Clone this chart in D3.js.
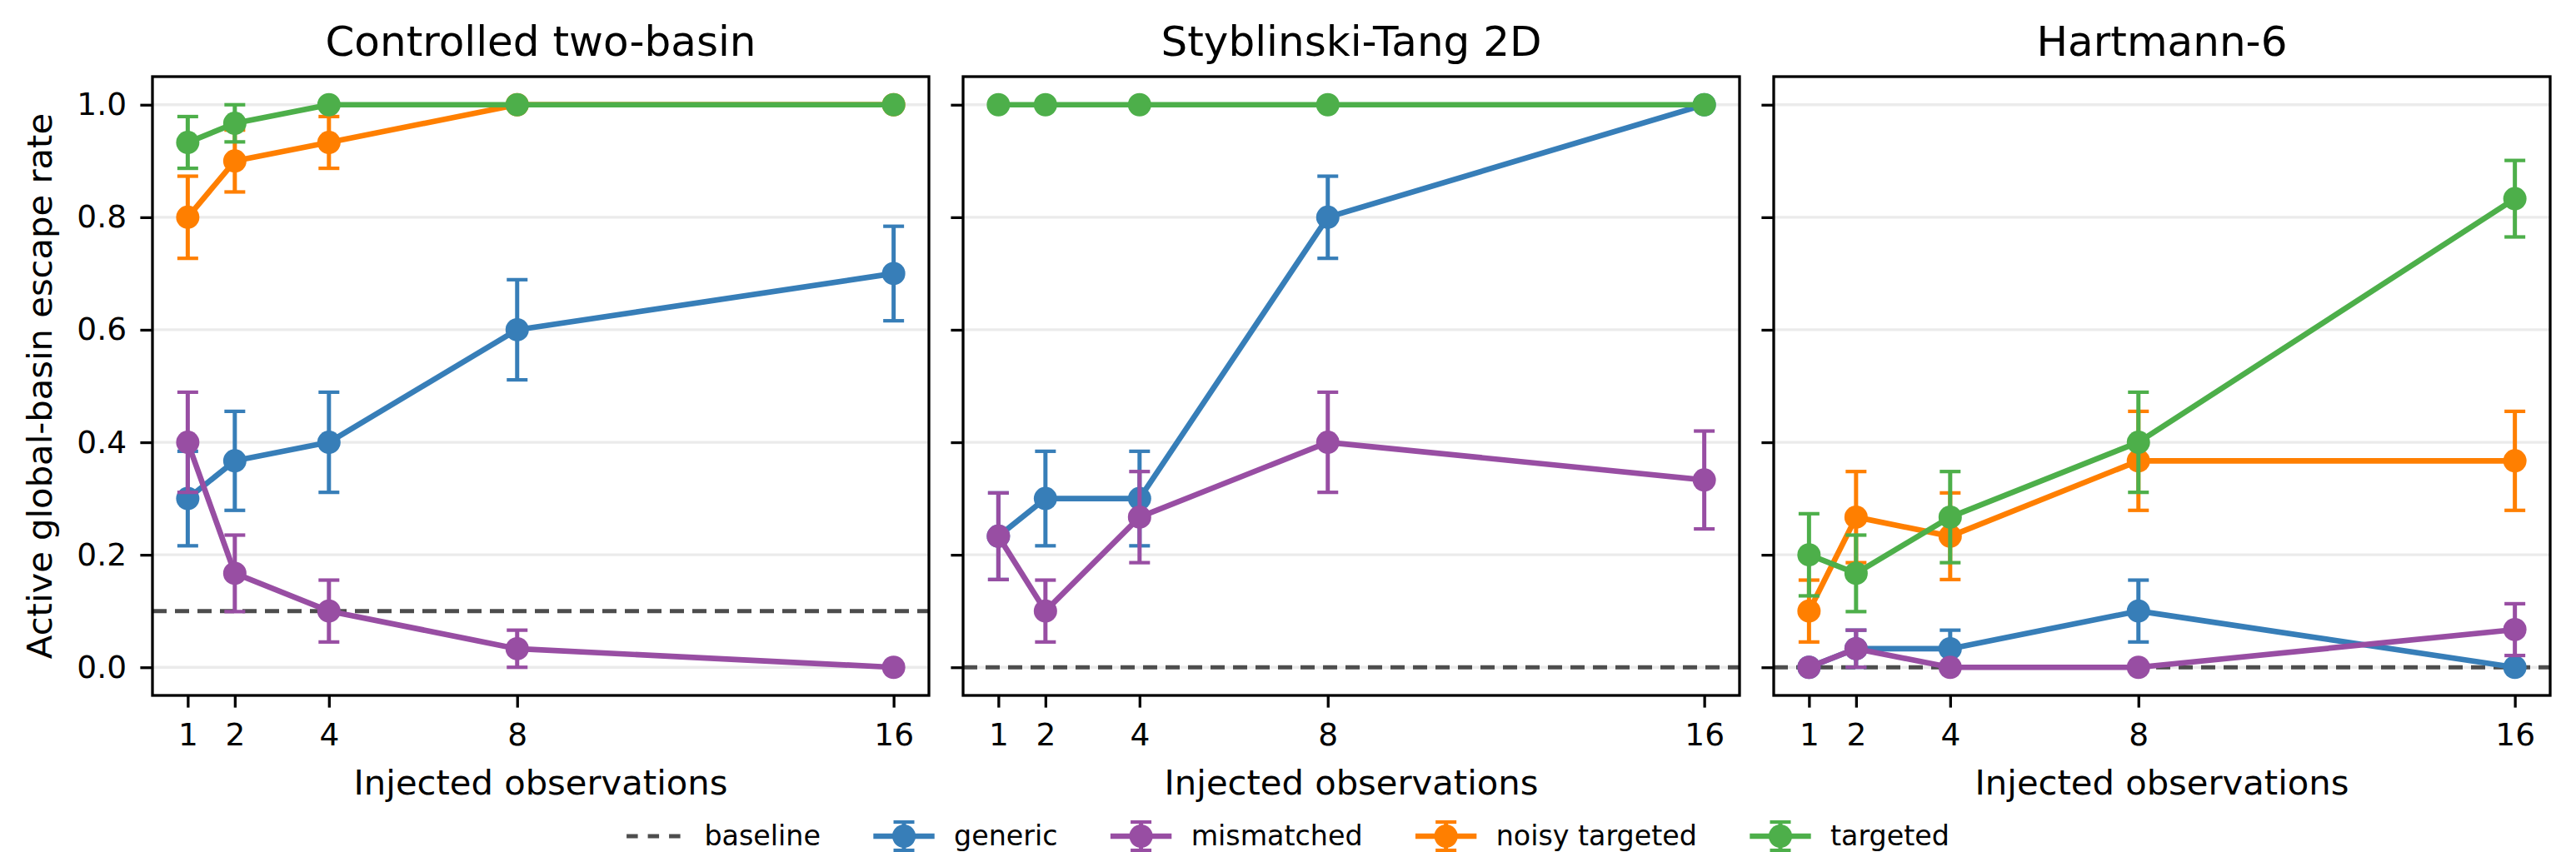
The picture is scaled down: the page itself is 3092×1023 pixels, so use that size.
<!DOCTYPE html>
<html>
<head>
<meta charset="utf-8">
<script src="https://cdn.jsdelivr.net/npm/d3@7"></script>
<style>
body { margin: 0; background: #fff; }
text { font-family: "DejaVu Sans", sans-serif; fill: #000; }
</style>
</head>
<body>
<script>

// ---- data ----
var injected = [1, 2, 4, 8, 16];
var panelTitles = ["Controlled two-basin", "Styblinski-Tang 2D", "Hartmann-6"];
var seriesNames = ["generic", "mismatched", "noisy targeted", "targeted"];
var seriesColors = ["#377eb8", "#984ea3", "#ff7f00", "#4daf4a"];
var baselineValues = [0.1, 0.0, 0.0];
var yTicks = [0.0, 0.2, 0.4, 0.6, 0.8, 1.0];

// Controlled two-basin
var twoBasinGeneric       = [0.300, 0.367, 0.400, 0.600, 0.700];
var twoBasinGenericErr    = [0.084, 0.088, 0.089, 0.089, 0.084];
var twoBasinMismatched    = [0.400, 0.167, 0.100, 0.033, 0.000];
var twoBasinMismatchedErr = [0.089, 0.068, 0.055, 0.033, 0.000];
var twoBasinNoisy         = [0.800, 0.900, 0.933, 1.000, 1.000];
var twoBasinNoisyErr      = [0.073, 0.055, 0.046, 0.000, 0.000];
var twoBasinTargeted      = [0.933, 0.967, 1.000, 1.000, 1.000];
var twoBasinTargetedErr   = [0.046, 0.033, 0.000, 0.000, 0.000];

// Styblinski-Tang 2D (no noisy targeted run)
var stGeneric       = [0.233, 0.300, 0.300, 0.800, 1.000];
var stGenericErr    = [0.077, 0.084, 0.084, 0.073, 0.000];
var stMismatched    = [0.233, 0.100, 0.267, 0.400, 0.333];
var stMismatchedErr = [0.077, 0.055, 0.081, 0.089, 0.087];
var stTargeted      = [1.000, 1.000, 1.000, 1.000, 1.000];
var stTargetedErr   = [0.000, 0.000, 0.000, 0.000, 0.000];

// Hartmann-6
var h6Generic       = [0.000, 0.033, 0.033, 0.100, 0.000];
var h6GenericErr    = [0.000, 0.033, 0.033, 0.055, 0.000];
var h6Mismatched    = [0.000, 0.033, 0.000, 0.000, 0.067];
var h6MismatchedErr = [0.000, 0.033, 0.000, 0.000, 0.046];
var h6Noisy         = [0.100, 0.267, 0.233, 0.367, 0.367];
var h6NoisyErr      = [0.055, 0.081, 0.077, 0.088, 0.088];
var h6Targeted      = [0.200, 0.167, 0.267, 0.400, 0.833];
var h6TargetedErr   = [0.073, 0.068, 0.081, 0.089, 0.068];

var panelValues = [
    [twoBasinGeneric, twoBasinMismatched, twoBasinNoisy, twoBasinTargeted],
    [stGeneric, stMismatched, null, stTargeted],
    [h6Generic, h6Mismatched, h6Noisy, h6Targeted]
];
var panelErrors = [
    [twoBasinGenericErr, twoBasinMismatchedErr, twoBasinNoisyErr, twoBasinTargetedErr],
    [stGenericErr, stMismatchedErr, null, stTargetedErr],
    [h6GenericErr, h6MismatchedErr, h6NoisyErr, h6TargetedErr]
];

// ---- layout (px, figure at 300 dpi) ----
var W = 3092, H = 1023;
var axTop = 92, axBottom = 835, axW = 932;
var axLefts = [183, 1156, 2129];
var lineW = 6.7, errW = 5, capHalf = 12.5, markR = 14;
var tickLen = 14.6, tickW = 3.3;
var baseColor = "#4d4d4d", baseDash = "17,10";

var svg = d3.select("body").append("svg")
    .attr("width", W)
    .attr("height", H);

var y = d3.scaleLinear().domain([-0.05, 1.05]).range([axBottom, axTop]);

panelTitles.forEach(function(title, p) {
    var left = axLefts[p];
    var x = d3.scaleLinear().domain([0.25, 16.75]).range([left, left + axW]);
    var g = svg.append("g");

    // grid
    g.selectAll("line.grid").data(yTicks).enter().append("line")
        .attr("x1", left).attr("x2", left + axW)
        .attr("y1", function(d){ return y(d); })
        .attr("y2", function(d){ return y(d); })
        .attr("stroke", "#ebebeb")
        .attr("stroke-width", 3.3);

    // baseline
    g.append("line")
        .attr("x1", left).attr("x2", left + axW)
        .attr("y1", y(baselineValues[p])).attr("y2", y(baselineValues[p]))
        .attr("stroke", baseColor)
        .attr("stroke-width", 5)
        .attr("stroke-dasharray", baseDash);

    seriesNames.forEach(function(name, s) {
        var vals = panelValues[p][s];
        if (!vals) return;
        var errs = panelErrors[p][s];
        var col = seriesColors[s];
        var pts = injected.map(function(n, i){ return {n: n, v: vals[i], e: errs[i]}; });
        var withErr = pts.filter(function(d){ return d.e > 0; });

        g.selectAll(null).data(withErr).enter().append("line")
            .attr("x1", function(d){ return x(d.n); })
            .attr("x2", function(d){ return x(d.n); })
            .attr("y1", function(d){ return y(d.v - d.e); })
            .attr("y2", function(d){ return y(d.v + d.e); })
            .attr("stroke", col).attr("stroke-width", errW);

        [-1, 1].forEach(function(sign) {
            g.selectAll(null).data(withErr).enter().append("line")
                .attr("x1", function(d){ return x(d.n) - capHalf; })
                .attr("x2", function(d){ return x(d.n) + capHalf; })
                .attr("y1", function(d){ return y(d.v + sign * d.e); })
                .attr("y2", function(d){ return y(d.v + sign * d.e); })
                .attr("stroke", col).attr("stroke-width", 4.2);
        });

        var line = d3.line()
            .x(function(d){ return x(d.n); })
            .y(function(d){ return y(d.v); });

        g.append("path")
            .attr("d", line(pts))
            .attr("fill", "none")
            .attr("stroke", col)
            .attr("stroke-width", lineW)
            .attr("stroke-linejoin", "round");

        g.selectAll(null).data(pts).enter().append("circle")
            .attr("cx", function(d){ return x(d.n); })
            .attr("cy", function(d){ return y(d.v); })
            .attr("r", markR)
            .attr("fill", col);
    });

    // axes
    var xAxis = g.append("g")
        .attr("transform", "translate(0," + axBottom + ")")
        .call(d3.axisBottom(x).tickValues(injected).tickSize(tickLen).tickPadding(18.8));
    var yAxis = g.append("g")
        .attr("transform", "translate(" + left + ",0)")
        .call(d3.axisLeft(y).tickValues(yTicks).tickSize(tickLen).tickPadding(16.4)
            .tickFormat(p === 0 ? d3.format(".1f") : function(){ return ""; }));
    [xAxis, yAxis].forEach(function(a) {
        a.select(".domain").remove();
        a.selectAll(".tick line").attr("stroke", "#000").attr("stroke-width", tickW);
        a.selectAll(".tick text")
            .style("font-family", "'DejaVu Sans', sans-serif")
            .style("font-size", "37.5px")
            .attr("fill", "#000");
    });

    g.append("rect")
        .attr("x", left).attr("y", axTop)
        .attr("width", axW).attr("height", axBottom - axTop)
        .attr("fill", "none")
        .attr("stroke", "#000")
        .attr("stroke-width", 3.3);

    g.append("text")
        .attr("x", left + axW / 2).attr("y", 67)
        .attr("text-anchor", "middle")
        .style("font-size", "50px")
        .text(title);

    g.append("text")
        .attr("x", left + axW / 2).attr("y", 954)
        .attr("text-anchor", "middle")
        .style("font-size", "41.7px")
        .text("Injected observations");
});

svg.append("text")
    .attr("transform", "translate(62," + ((axTop + axBottom) / 2) + ") rotate(-90)")
    .attr("text-anchor", "middle")
    .style("font-size", "41.7px")
    .text("Active global-basin escape rate");

// ---- legend ----
var legendItems = ["baseline"].concat(seriesNames);
var legendColors = [baseColor].concat(seriesColors);
var fs = 33.3, handleLen = 66.7, handlePad = 26.7, colSpace = 66.7;
var legendY = 1004, legendBase = 1015;

var leg = svg.append("g");
var widths = legendItems.map(function(t) {
    var tmp = leg.append("text").style("font-size", fs + "px").text(t);
    var w = tmp.node().getComputedTextLength();
    tmp.remove();
    return w;
});
var total = d3.sum(widths) + legendItems.length * (handleLen + handlePad) + (legendItems.length - 1) * colSpace;
var cx = W / 2 - total / 2;

legendItems.forEach(function(t, i) {
    var col = legendColors[i];
    if (i === 0) {
        leg.append("line")
            .attr("x1", cx).attr("x2", cx + handleLen)
            .attr("y1", legendY).attr("y2", legendY)
            .attr("stroke", col).attr("stroke-width", 5)
            .attr("stroke-dasharray", "13.5,12");
    } else {
        var mid = cx + handleLen / 2;
        leg.append("line")
            .attr("x1", cx).attr("x2", cx + handleLen)
            .attr("y1", legendY).attr("y2", legendY)
            .attr("stroke", col).attr("stroke-width", lineW)
            .attr("stroke-linecap", "square");
        leg.append("line")
            .attr("x1", mid).attr("x2", mid)
            .attr("y1", legendY - 17).attr("y2", legendY + 17)
            .attr("stroke", col).attr("stroke-width", errW);
        [-17, 17].forEach(function(dy) {
            leg.append("line")
                .attr("x1", mid - capHalf).attr("x2", mid + capHalf)
                .attr("y1", legendY + dy).attr("y2", legendY + dy)
                .attr("stroke", col).attr("stroke-width", 4.2);
        });
        leg.append("circle")
            .attr("cx", mid).attr("cy", legendY)
            .attr("r", markR).attr("fill", col);
    }
    leg.append("text")
        .attr("x", cx + handleLen + handlePad).attr("y", legendBase)
        .style("font-size", fs + "px")
        .text(t);
    cx += handleLen + handlePad + widths[i] + colSpace;
});

</script>
</body>
</html>
